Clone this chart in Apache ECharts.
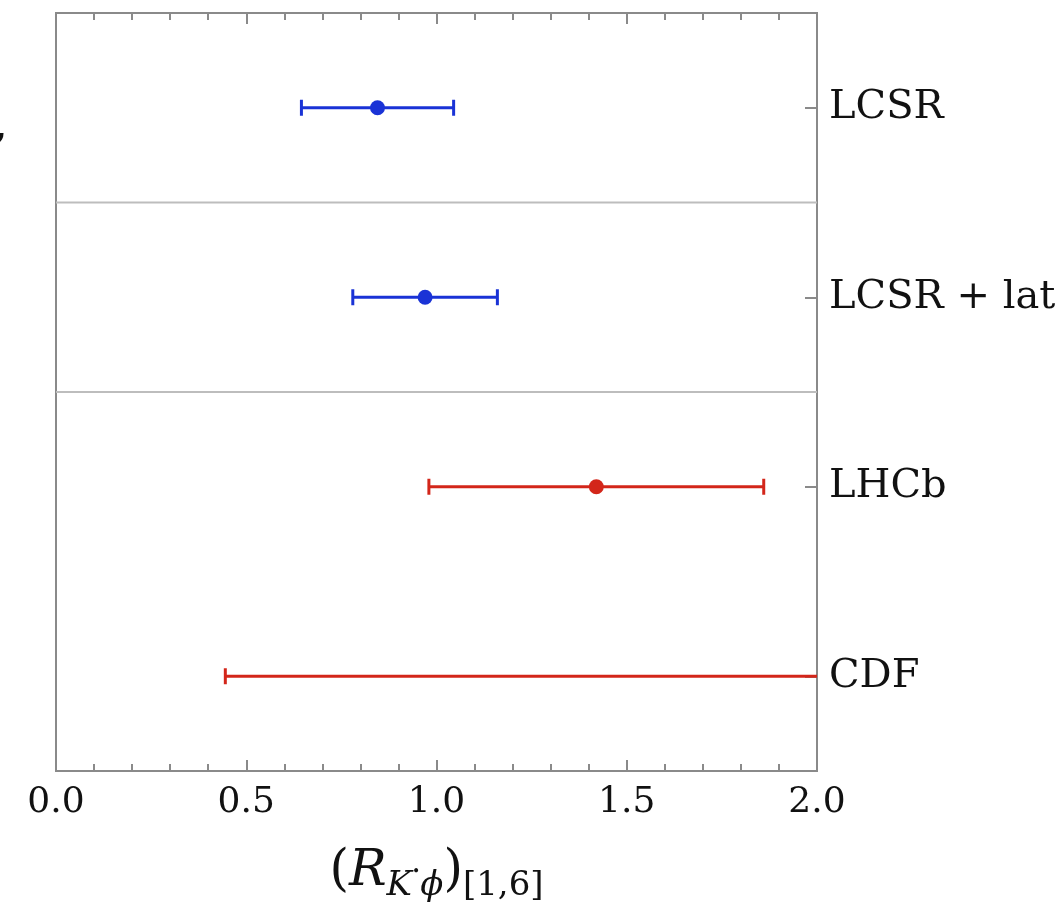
<!DOCTYPE html>
<html><head><meta charset="utf-8">
<script src="https://cdn.jsdelivr.net/npm/echarts@6/dist/echarts.min.js"></script>
<style>html,body{margin:0;padding:0;background:#fff}#c{width:1058px;height:908px}</style>
</head><body><div id="c"></div>
<script>
// ---- data ----
const categories = ['LCSR', 'LCSR + lat', 'LHCb', 'CDF'];
const centralValues = [0.845, 0.97, 1.42, null];     // CDF: no central point shown
const lowerValues   = [0.645, 0.78, 0.98, 0.445];
const upperValues   = [1.045, 1.16, 1.86, 2.4];      // CDF upper bound runs past the plotted range
const theoryRows = ['LCSR', 'LCSR + lat'];
const experimentRows = ['LHCb', 'CDF'];
const separatorsAfter = ['LCSR', 'LCSR + lat'];
const xMin = 0, xMax = 2, xStep = 0.5;

function rowsFor(names) {
  return names.map(n => {
    const i = categories.indexOf(n);
    return [n, lowerValues[i], upperValues[i], centralValues[i] == null ? NaN : centralValues[i]];
  });
}

function renderErrorBar(params, api) {
  const cat = api.value(0);
  const lo = api.value(1), hi = api.value(2), mid = api.value(3);
  const cs = params.coordSys;
  const pLo = api.coord([lo, cat]);
  const pHi = api.coord([hi, cat]);
  const y = pLo[1];
  const left = cs.x, right = cs.x + cs.width;
  const xL = Math.max(pLo[0], left), xR = Math.min(pHi[0], right);
  const color = api.visual('color');
  const st = {stroke: color, lineWidth: 3};
  const capH = 8;
  const children = [{type: 'line', shape: {x1: xL, y1: y, x2: xR, y2: y}, style: st}];
  if (pLo[0] >= left) children.push({type: 'line', shape: {x1: pLo[0], y1: y - capH, x2: pLo[0], y2: y + capH}, style: st});
  if (pHi[0] <= right) children.push({type: 'line', shape: {x1: pHi[0], y1: y - capH, x2: pHi[0], y2: y + capH}, style: st});
  if (!isNaN(mid)) {
    const pM = api.coord([mid, cat]);
    children.push({type: 'circle', shape: {cx: pM[0], cy: pM[1], r: 7.5}, style: {fill: color}});
  }
  return {type: 'group', children};
}

function renderSeparator(params, api) {
  const cat = api.value(0);
  const cs = params.coordSys;
  const p = api.coord([xMin, cat]);
  const half = api.size([0, 1])[1] / 2;
  const y = p[1] + half;
  return {type: 'line', shape: {x1: cs.x, y1: y, x2: cs.x + cs.width, y2: y},
          style: {stroke: '#bdbdbd', lineWidth: 2}};
}

const serif = 'DejaVu Serif';
const txt = '#111';
const chart = echarts.init(document.getElementById('c'));
chart.setOption({
  animation: false,
  backgroundColor: '#fff',
  grid: {left: 56, right: 241, top: 13, bottom: 137, show: true, borderColor: '#8a8a8a', borderWidth: 2,
         containLabel: false, outerBoundsMode: 'none'},
  xAxis: [{
    type: 'value', position: 'bottom', min: xMin, max: xMax, interval: xStep,
    axisLine: {show: false, onZero: false},
    axisTick: {show: true, inside: true, length: 11, lineStyle: {color: '#8a8a8a', width: 2}},
    minorTick: {show: true, splitNumber: 5, length: 7, lineStyle: {color: '#8a8a8a', width: 2}},
    splitLine: {show: false},
    axisLabel: {fontFamily: serif, fontSize: 36, color: txt, margin: 14,
                formatter: v => v.toFixed(1)},
    name: '{p|(}{it|R}{subit|K}{sup|•}{subit|ϕ}{p|)}{sub|[1,6]}',
    nameLocation: 'middle', nameGap: 70,
    nameTextStyle: {
      rich: {
        p: {fontFamily: serif, fontSize: 50, color: txt, lineHeight: 62, verticalAlign: 'middle'},
        it: {fontFamily: serif, fontStyle: 'italic', fontSize: 50, color: txt, lineHeight: 62, verticalAlign: 'middle'},
        sub: {fontFamily: serif, fontSize: 34, color: txt, lineHeight: 62, verticalAlign: 'bottom'},
        subit: {fontFamily: serif, fontStyle: 'italic', fontSize: 34, color: txt, lineHeight: 62, verticalAlign: 'bottom'},
        sup: {fontFamily: serif, fontSize: 14, color: txt, lineHeight: 62, verticalAlign: 'middle'}
      }
    }
  }, {
    type: 'value', position: 'top', min: xMin, max: xMax, interval: xStep,
    axisLine: {show: false, onZero: false},
    axisTick: {show: true, inside: true, length: 11, lineStyle: {color: '#8a8a8a', width: 2}},
    minorTick: {show: true, splitNumber: 5, length: 7, lineStyle: {color: '#8a8a8a', width: 2}},
    splitLine: {show: false},
    axisLabel: {show: false}
  }],
  yAxis: {
    type: 'category', data: categories, inverse: true, position: 'right',
    axisLine: {show: false, onZero: false},
    axisTick: {show: true, inside: true, alignWithLabel: true, length: 12, lineStyle: {color: '#8a8a8a', width: 2}},
    splitLine: {show: false},
    axisLabel: {fontFamily: serif, fontSize: 40, color: txt, margin: 12}
  },
  graphic: [{type: 'text', left: -5, top: 112, style: {text: ',', fontFamily: serif, fontWeight: 'bold', fontSize: 34, fill: txt}}],
  series: [
    {type: 'custom', name: 'separators', renderItem: renderSeparator, silent: true,
     encode: {y: 0}, data: separatorsAfter.map(n => [n]), z: 1},
    {type: 'custom', name: 'theory', renderItem: renderErrorBar, color: '#1a33d6',
     encode: {y: 0, x: [1, 2, 3]}, data: rowsFor(theoryRows), z: 3},
    {type: 'custom', name: 'experiment', renderItem: renderErrorBar, color: '#d3261a',
     encode: {y: 0, x: [1, 2, 3]}, data: rowsFor(experimentRows), z: 3}
  ]
});
</script></body></html>
